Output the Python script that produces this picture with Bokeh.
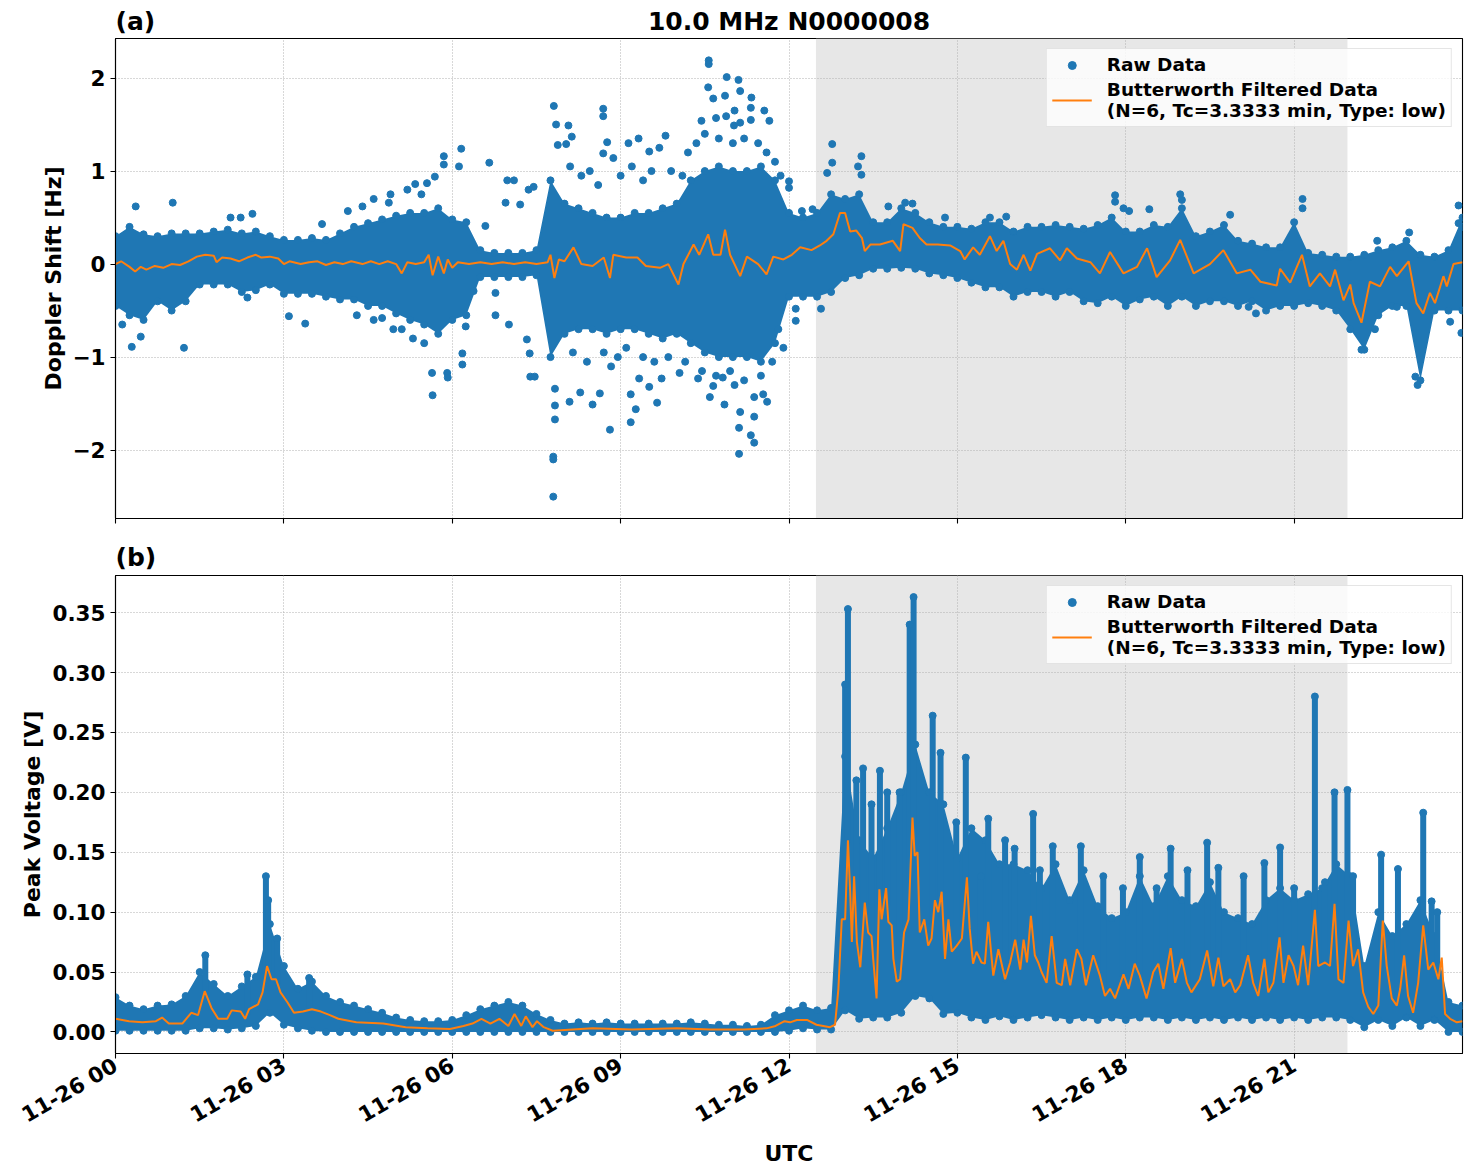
import math
import numpy as np
from bokeh.plotting import figure
from bokeh.layouts import column
from bokeh.models import (Range1d, FixedTicker, BoxAnnotation, Legend, LegendItem,
                          NumeralTickFormatter)
from bokeh.core.properties import value
from bokeh.embed import file_html
from bokeh.resources import INLINE

FONT = "DejaVu Sans"
BLUE = "#1f77b4"
ORANGE = "#ff7f0e"

# ---- time axis (hours after 2023-11-26 00:00 UTC) ----
hour_ticks = [0, 3, 6, 9, 12, 15, 18, 21]
hour_labels = ["11-26 00", "11-26 03", "11-26 06", "11-26 09",
               "11-26 12", "11-26 15", "11-26 18", "11-26 21"]
shade_start, shade_end = 12.48, 21.95          # shaded daytime interval (hours)

# raw-data envelope sampled every 15 minutes
env_t = np.arange(97) * 0.25

# ---- (a) Doppler shift [Hz] ----
doppler_hi = [0.30, 0.40, 0.32, 0.30, 0.33, 0.33, 0.33, 0.35, 0.37, 0.33, 0.35, 0.30,
              0.26, 0.26, 0.28, 0.26, 0.33, 0.40, 0.44, 0.48, 0.52, 0.55, 0.55, 0.60,
              0.48, 0.45, 0.15, 0.12, 0.12, 0.12, 0.15, 0.90, 0.65, 0.60, 0.55, 0.50,
              0.50, 0.55, 0.55, 0.60, 0.65, 0.90, 1.00, 1.05, 1.00, 1.00, 1.05, 0.90,
              0.55, 0.50, 0.55, 0.75, 0.70, 0.75, 0.45, 0.45, 0.60, 0.55, 0.45, 0.40,
              0.40, 0.38, 0.45, 0.45, 0.35, 0.40, 0.40, 0.42, 0.40, 0.38, 0.42, 0.50,
              0.35, 0.35, 0.42, 0.40, 0.60, 0.30, 0.35, 0.42, 0.25, 0.22, 0.18, 0.18,
              0.45, 0.12, 0.10, 0.08, 0.08, 0.10, 0.15, 0.18, 0.25, 0.10, 0.08, 0.15,
              0.50]
doppler_lo = [-0.45, -0.55, -0.60, -0.40, -0.50, -0.40, -0.22, -0.22, -0.22, -0.30, -0.28, -0.22,
              -0.32, -0.32, -0.32, -0.35, -0.38, -0.38, -0.45, -0.45, -0.53, -0.60, -0.65, -0.75,
              -0.60, -0.55, -0.14, -0.14, -0.14, -0.14, -0.12, -1.00, -0.75, -0.70, -0.70, -0.75,
              -0.70, -0.70, -0.75, -0.80, -0.75, -0.85, -0.95, -1.00, -1.00, -1.00, -1.05, -0.85,
              -0.35, -0.35, -0.35, -0.30, -0.15, -0.12, -0.05, -0.05, -0.04, -0.05, -0.10, -0.12,
              -0.15, -0.20, -0.25, -0.25, -0.35, -0.30, -0.30, -0.35, -0.30, -0.40, -0.42, -0.35,
              -0.45, -0.38, -0.35, -0.45, -0.35, -0.45, -0.40, -0.40, -0.45, -0.40, -0.50, -0.45,
              -0.45, -0.42, -0.45, -0.50, -0.70, -0.92, -0.55, -0.45, -0.45, -1.25, -0.50, -0.50,
              -0.50]

doppler_outliers = [
    (0.12, -0.65), (0.29, -0.89), (0.36, 0.62), (0.45, -0.78), (1.02, 0.66), (1.22, -0.90),
    (2.05, 0.50), (2.23, 0.50), (2.35, -0.36), (2.44, 0.54), (3.09, -0.56), (3.38, -0.64),
    (3.68, 0.43), (4.14, 0.57), (4.75, -0.58), (4.87, 0.66), (5.10, -0.70), (5.34, 0.86),
    (5.55, 0.87), (5.64, -1.17), (5.65, -1.41), (5.69, 0.94), (5.85, 1.16), (5.85, 1.07),
    (5.91, -1.17), (5.92, -1.22), (6.12, 1.05), (6.16, 1.24), (6.18, -1.08), (6.18, -0.96),
    (6.24, -0.67), (6.38, -0.29), (6.59, 0.41), (6.66, 1.09), (6.77, -0.55), (6.77, -0.31),
    (6.95, 0.66), (6.98, 0.90), (7.01, -0.65), (7.10, 0.90), (7.21, 0.64), (7.33, -0.81),
    (7.36, 0.80), (7.38, -0.96), (7.39, -1.21), (7.45, 0.83), (7.47, -1.21), (7.80, -2.07),
    (7.80, -2.10), (7.80, -2.50), (7.81, 1.70), (7.83, -1.67), (7.83, -1.52), (7.83, -1.34),
    (7.85, 1.50), (7.88, 1.28),
    (4.40, 0.62), (4.60, 0.70), (4.90, 0.75), (5.20, 0.80), (5.45, 0.75), (4.30, -0.55),
    (4.60, -0.60), (4.95, -0.70), (5.30, -0.80), (5.50, -0.85),
    (8.03, 1.29), (8.07, 1.49), (8.13, 1.37), (8.69, 1.67), (8.69, 1.59), (8.76, 1.31),
    (8.69, 1.19), (8.87, 1.14), (9.14, 1.30), (9.32, 1.35), (9.51, 1.21), (9.69, 1.25),
    (9.80, 1.38), (10.44, 1.54), (10.56, 1.90), (10.57, 2.19), (10.57, 2.15), (10.65, 1.78),
    (10.70, 1.57), (10.86, 1.81), (10.88, 1.59), (10.89, 2.01), (11.02, 1.49), (11.03, 1.65),
    (11.10, 1.98), (11.13, 1.86), (11.13, 1.52), (11.32, 1.68), (11.32, 1.55), (11.33, 1.79),
    (11.56, 1.65), (11.65, 1.54), (12.00, 0.89), (12.00, 0.82), (12.23, 0.57), (12.42, 0.59),
    (12.68, 0.98), (12.77, 1.29), (12.77, 1.09), (13.23, 1.05), (13.29, 1.16), (13.29, 0.96),
    (13.77, 0.62), (14.07, 0.66), (14.20, 0.65), (14.78, 0.50), (15.58, 0.50), (15.87, 0.51),
    (8.10, 1.05), (8.30, 0.95), (8.45, 1.00), (8.60, 0.85), (9.00, 0.95), (9.20, 1.05),
    (9.40, 0.90), (9.55, 1.00), (9.90, 1.00), (10.10, 0.95), (10.20, 1.20), (10.35, 1.30),
    (10.50, 1.40), (10.75, 1.35), (11.00, 1.30), (11.20, 1.35), (11.45, 1.30), (11.60, 1.20),
    (11.75, 1.10), (11.85, 0.95),
    (8.09, -1.48), (8.28, -1.38), (8.50, -1.51), (8.63, -1.39), (8.81, -1.78), (8.83, -1.10),
    (9.18, -1.70), (9.18, -1.40), (9.27, -1.56), (9.33, -1.23), (9.51, -1.32), (9.65, -1.49),
    (9.73, -1.23), (10.05, -1.17), (10.38, -1.23), (10.59, -1.43), (10.65, -1.31), (10.82, -1.22),
    (10.85, -1.51), (11.03, -1.30), (11.11, -2.04), (11.11, -1.76), (11.13, -1.59), (11.32, -1.84),
    (11.38, -1.92), (11.38, -1.64), (11.38, -1.43), (11.54, -1.40), (11.61, -1.48), (11.81, -0.70),
    (12.12, -0.61), (12.12, -0.48), (12.57, -0.48),
    (8.15, -0.95), (8.40, -1.05), (8.70, -0.95), (8.95, -1.00), (9.10, -0.90), (9.40, -1.00),
    (9.60, -1.05), (9.85, -1.00), (10.15, -1.05), (10.45, -1.15), (10.70, -1.20), (10.95, -1.15),
    (11.20, -1.25), (11.50, -1.20), (11.70, -1.05), (11.90, -0.90),
    (17.81, 0.74), (17.81, 0.67), (17.96, 0.60), (18.06, 0.57), (18.42, 0.59), (18.97, 0.75),
    (19.00, 0.69), (19.86, 0.53), (21.15, 0.70), (21.15, 0.60), (22.48, 0.25), (23.05, 0.34),
    (23.93, 0.63), (23.93, 0.44), (24.00, 0.40),
    (20.19, -0.46), (20.32, -0.53), (22.20, -0.92), (22.44, -0.70), (22.83, -0.46),
    (23.16, -1.21), (23.20, -1.30), (23.78, -0.62), (23.98, -0.74),
]

doppler_filt = [
    (0.00, 0.00), (0.10, 0.03), (0.25, -0.03), (0.35, -0.08), (0.45, -0.03), (0.55, -0.06),
    (0.70, -0.02), (0.85, -0.04), (1.00, 0.00), (1.15, -0.01), (1.30, 0.03), (1.45, 0.08),
    (1.60, 0.10), (1.75, 0.09), (1.80, 0.02), (1.90, 0.07), (2.05, 0.06), (2.20, 0.03),
    (2.35, 0.07), (2.50, 0.10), (2.60, 0.07), (2.75, 0.08), (2.90, 0.06), (3.00, 0.00),
    (3.10, 0.03), (3.30, 0.00), (3.45, 0.02), (3.60, 0.03), (3.75, -0.01), (3.90, 0.02),
    (4.05, 0.00), (4.20, 0.03), (4.40, 0.00), (4.55, 0.03), (4.70, 0.00), (4.85, 0.03),
    (5.00, 0.00), (5.10, -0.10), (5.20, 0.02), (5.35, 0.00), (5.50, 0.02), (5.58, 0.10),
    (5.65, -0.12), (5.75, 0.08), (5.85, -0.10), (5.92, 0.05), (6.00, -0.04), (6.10, 0.02),
    (6.30, 0.00), (6.50, 0.02), (6.70, 0.00), (6.90, 0.02), (7.10, 0.00), (7.30, 0.02),
    (7.50, 0.00), (7.70, 0.02), (7.75, 0.10), (7.82, -0.15), (7.90, 0.05), (8.00, 0.03),
    (8.16, 0.18), (8.30, 0.00), (8.50, -0.02), (8.70, 0.07), (8.81, -0.15), (8.87, 0.10),
    (9.10, 0.07), (9.30, 0.07), (9.45, -0.02), (9.70, -0.04), (9.85, 0.00), (10.03, -0.22),
    (10.12, 0.00), (10.30, 0.21), (10.40, 0.10), (10.56, 0.32), (10.65, 0.10), (10.78, 0.10),
    (10.86, 0.37), (10.95, 0.10), (11.13, -0.13), (11.25, 0.08), (11.45, 0.00), (11.60, -0.11),
    (11.72, 0.08), (11.90, 0.05), (12.05, 0.10), (12.20, 0.18), (12.40, 0.15), (12.55, 0.20),
    (12.67, 0.25), (12.79, 0.32), (12.91, 0.55), (13.00, 0.55), (13.09, 0.35), (13.20, 0.36),
    (13.30, 0.28), (13.35, 0.14), (13.45, 0.21), (13.62, 0.21), (13.85, 0.25), (13.98, 0.14),
    (14.04, 0.43), (14.20, 0.39), (14.33, 0.28), (14.45, 0.21), (14.65, 0.21), (14.87, 0.20),
    (15.05, 0.14), (15.13, 0.05), (15.28, 0.18), (15.40, 0.10), (15.58, 0.30), (15.70, 0.14),
    (15.82, 0.25), (15.94, 0.00), (16.06, -0.06), (16.18, 0.10), (16.30, -0.07), (16.42, 0.11),
    (16.65, 0.17), (16.83, 0.04), (16.95, 0.17), (17.13, 0.06), (17.37, 0.02), (17.54, -0.10),
    (17.72, 0.13), (17.96, -0.10), (18.20, -0.03), (18.38, 0.17), (18.55, -0.14), (18.79, 0.04),
    (18.97, 0.26), (19.21, -0.10), (19.50, 0.00), (19.74, 0.15), (19.98, -0.10), (20.22, -0.06),
    (20.40, -0.19), (20.69, -0.23), (20.75, -0.05), (20.93, -0.20), (21.14, 0.10), (21.28, -0.24),
    (21.46, -0.10), (21.64, -0.24), (21.73, -0.06), (21.88, -0.39), (22.00, -0.22), (22.06, -0.42),
    (22.20, -0.63), (22.35, -0.19), (22.53, -0.24), (22.71, -0.03), (22.83, -0.13), (23.04, 0.03),
    (23.18, -0.42), (23.30, -0.53), (23.42, -0.31), (23.51, -0.42), (23.66, -0.13), (23.72, -0.24),
    (23.84, 0.00), (24.00, 0.02),
]

# ---- (b) Peak voltage [V] ----
volt_hi = [0.029, 0.022, 0.019, 0.022, 0.023, 0.030, 0.050, 0.040, 0.030, 0.038, 0.046, 0.090,
           0.055, 0.036, 0.042, 0.030, 0.025, 0.022, 0.019, 0.016, 0.012, 0.010, 0.009, 0.009,
           0.010, 0.014, 0.019, 0.022, 0.025, 0.022, 0.015, 0.010, 0.007, 0.008, 0.007, 0.008,
           0.007, 0.007, 0.007, 0.007, 0.007, 0.008, 0.007, 0.006, 0.006, 0.005, 0.006, 0.014,
           0.018, 0.022, 0.018, 0.020, 0.230, 0.160, 0.145, 0.170, 0.200, 0.240, 0.200, 0.190,
           0.145, 0.170, 0.160, 0.140, 0.140, 0.135, 0.120, 0.140, 0.110, 0.135, 0.105, 0.095,
           0.100, 0.130, 0.105, 0.130, 0.110, 0.105, 0.125, 0.100, 0.095, 0.090, 0.110, 0.120,
           0.110, 0.115, 0.120, 0.140, 0.130, 0.055, 0.100, 0.080, 0.090, 0.110, 0.080, 0.025,
           0.022]
volt_lo = [0.001, 0.001, 0.001, 0.001, 0.001, 0.001, 0.003, 0.003, 0.002, 0.003, 0.005, 0.016,
           0.006, 0.003, 0.001, 0.000, 0.000, 0.000, 0.000, 0.000, 0.000, 0.000, 0.000, 0.000,
           0.000, 0.000, 0.000, 0.000, 0.000, 0.000, 0.000, 0.000, 0.000, 0.000, 0.000, 0.000,
           0.000, 0.000, 0.000, 0.000, 0.000, 0.000, 0.000, 0.000, 0.000, 0.000, 0.000, 0.000,
           0.001, 0.003, 0.002, 0.002, 0.018, 0.011, 0.012, 0.012, 0.016, 0.030, 0.028, 0.015,
           0.016, 0.012, 0.010, 0.013, 0.010, 0.012, 0.014, 0.012, 0.010, 0.012, 0.010, 0.012,
           0.010, 0.012, 0.012, 0.010, 0.012, 0.010, 0.012, 0.010, 0.012, 0.010, 0.012, 0.010,
           0.012, 0.010, 0.012, 0.012, 0.010, 0.004, 0.010, 0.005, 0.012, 0.005, 0.010, 0.000,
           0.000]

# isolated bursts of raw points: (time, highest value)
volt_spikes = [
    (1.60, 0.064), (2.35, 0.048), (2.68, 0.130), (2.72, 0.110), (2.88, 0.078), (3.45, 0.045),
    (13.00, 0.290), (13.05, 0.353), (13.20, 0.210), (13.32, 0.220), (13.47, 0.190), (13.62, 0.218),
    (13.75, 0.200), (13.97, 0.200), (14.15, 0.340), (14.22, 0.363), (14.56, 0.264), (14.70, 0.233),
    (14.98, 0.175), (15.15, 0.229), (15.42, 0.130), (15.55, 0.178), (15.85, 0.160), (16.02, 0.153),
    (16.35, 0.182), (16.47, 0.135), (16.70, 0.155), (17.20, 0.155), (17.60, 0.130), (17.95, 0.120),
    (18.25, 0.146), (18.55, 0.120), (18.80, 0.153), (19.10, 0.135), (19.45, 0.158), (19.65, 0.137),
    (20.10, 0.130), (20.47, 0.141), (20.75, 0.154), (21.00, 0.120), (21.37, 0.280), (21.55, 0.125),
    (21.72, 0.200), (21.95, 0.202), (22.05, 0.130), (22.55, 0.148), (22.85, 0.136), (23.30, 0.183),
    (23.45, 0.109), (23.55, 0.100),
]

volt_filt = [
    (0.00, 0.011), (0.24, 0.009), (0.48, 0.008), (0.72, 0.009), (0.83, 0.012), (0.95, 0.007),
    (1.19, 0.007), (1.35, 0.016), (1.47, 0.014), (1.59, 0.034), (1.71, 0.020), (1.83, 0.011),
    (1.99, 0.011), (2.07, 0.018), (2.23, 0.017), (2.31, 0.011), (2.38, 0.019), (2.54, 0.023),
    (2.62, 0.033), (2.70, 0.055), (2.78, 0.044), (2.86, 0.044), (2.94, 0.033), (3.06, 0.025),
    (3.18, 0.016), (3.34, 0.017), (3.50, 0.019), (3.66, 0.017), (3.82, 0.014), (3.97, 0.011),
    (4.29, 0.008), (4.77, 0.007), (5.17, 0.004), (5.56, 0.003), (5.96, 0.0025), (6.20, 0.005),
    (6.36, 0.007), (6.52, 0.011), (6.68, 0.007), (6.84, 0.011), (7.00, 0.005), (7.11, 0.015),
    (7.23, 0.005), (7.31, 0.013), (7.43, 0.004), (7.51, 0.009), (7.63, 0.004), (7.79, 0.001),
    (8.50, 0.003), (9.20, 0.002), (10.00, 0.003), (10.60, 0.002), (11.20, 0.002), (11.60, 0.003),
    (11.76, 0.005), (11.92, 0.009), (12.02, 0.008), (12.14, 0.010), (12.32, 0.010), (12.49, 0.006),
    (12.73, 0.004), (12.82, 0.006), (12.88, 0.036), (12.94, 0.094), (13.00, 0.094), (13.05, 0.160),
    (13.09, 0.117), (13.12, 0.075), (13.16, 0.130), (13.21, 0.075), (13.27, 0.054), (13.35, 0.108),
    (13.41, 0.083), (13.47, 0.080), (13.50, 0.061), (13.56, 0.028), (13.61, 0.119), (13.65, 0.094),
    (13.73, 0.120), (13.77, 0.092), (13.83, 0.089), (13.86, 0.061), (13.92, 0.042), (13.98, 0.044),
    (14.05, 0.083), (14.13, 0.094), (14.20, 0.179), (14.24, 0.147), (14.29, 0.150), (14.33, 0.083),
    (14.41, 0.094), (14.48, 0.072), (14.54, 0.078), (14.60, 0.110), (14.66, 0.100), (14.72, 0.117),
    (14.78, 0.061), (14.84, 0.094), (14.90, 0.067), (14.99, 0.072), (15.08, 0.078), (15.17, 0.129),
    (15.22, 0.086), (15.28, 0.057), (15.34, 0.067), (15.43, 0.058), (15.49, 0.057), (15.55, 0.092),
    (15.64, 0.047), (15.73, 0.069), (15.85, 0.044), (15.94, 0.058), (16.03, 0.077), (16.12, 0.052),
    (16.18, 0.077), (16.24, 0.058), (16.31, 0.097), (16.38, 0.064), (16.44, 0.058), (16.50, 0.050),
    (16.59, 0.041), (16.68, 0.080), (16.77, 0.041), (16.86, 0.039), (16.92, 0.061), (17.01, 0.039),
    (17.13, 0.069), (17.21, 0.061), (17.29, 0.039), (17.42, 0.064), (17.54, 0.047), (17.63, 0.030),
    (17.72, 0.036), (17.81, 0.028), (17.96, 0.048), (18.05, 0.036), (18.16, 0.057), (18.25, 0.047),
    (18.37, 0.028), (18.49, 0.050), (18.58, 0.057), (18.67, 0.036), (18.80, 0.070), (18.88, 0.041),
    (19.00, 0.061), (19.09, 0.041), (19.17, 0.033), (19.32, 0.044), (19.45, 0.068), (19.56, 0.038),
    (19.65, 0.062), (19.74, 0.038), (19.86, 0.044), (19.95, 0.033), (20.04, 0.039), (20.18, 0.064),
    (20.27, 0.041), (20.36, 0.030), (20.47, 0.061), (20.54, 0.033), (20.63, 0.041), (20.74, 0.079),
    (20.81, 0.041), (20.90, 0.064), (20.99, 0.055), (21.07, 0.039), (21.16, 0.072), (21.25, 0.039),
    (21.37, 0.102), (21.43, 0.055), (21.55, 0.058), (21.64, 0.055), (21.72, 0.107), (21.79, 0.044),
    (21.88, 0.041), (21.97, 0.093), (22.05, 0.055), (22.14, 0.069), (22.23, 0.033), (22.32, 0.021),
    (22.41, 0.015), (22.50, 0.022), (22.58, 0.093), (22.65, 0.055), (22.74, 0.028), (22.83, 0.022),
    (22.89, 0.036), (22.96, 0.064), (23.03, 0.030), (23.12, 0.016), (23.21, 0.041), (23.30, 0.089),
    (23.39, 0.052), (23.48, 0.058), (23.57, 0.044), (23.63, 0.062), (23.69, 0.015), (23.78, 0.011),
    (23.90, 0.008), (24.00, 0.009),
]

doppler_yticks = [-2, -1, 0, 1, 2]
doppler_ylabels = ["\u22122", "\u22121", "0", "1", "2"]
volt_yticks = [0.0, 0.05, 0.10, 0.15, 0.20, 0.25, 0.30, 0.35]

title_text = "10.0 MHz N0000008"
legend_raw = "Raw Data"
legend_filt = "Butterworth Filtered Data\n(N=6, Tc=3.3333 min, Type: low)"

assert len(doppler_hi) == len(doppler_lo) == len(volt_hi) == len(volt_lo) == len(env_t)

TICK_PX = "21.5px"
LABEL_PX = "22px"
LEGEND_PX = "18.5px"
TITLE_PX = "25px"


def make_header(height, mid, texts):
    """Thin strip above a panel carrying the panel tag and the title."""
    h = figure(width=1472, height=height, x_range=Range1d(0, 24), y_range=Range1d(0, height),
               output_backend="svg", toolbar_location=None,
               x_axis_location=None, y_axis_location=None,
               min_border_left=115, min_border_right=10, min_border_top=0, min_border_bottom=0)
    h.outline_line_color = None
    h.grid.visible = False
    for x, txt, align in texts:
        h.text(x=[x], y=[mid], text=[txt], text_align=align, text_baseline="middle",
               text_font=value(FONT), text_font_style="bold", text_font_size=TITLE_PX,
               text_color="black")
    return h


def make_panel(height, border_top, border_bottom, y0, y1, ylabel, show_xlabels, label_gap):
    p = figure(width=1472, height=height, x_range=Range1d(0, 24), y_range=Range1d(y0, y1),
               output_backend="svg", toolbar_location=None,
               min_border_left=115, min_border_right=10,
               min_border_top=border_top, min_border_bottom=border_bottom)
    p.background_fill_color = "white"
    p.border_fill_color = "white"
    p.outline_line_color = "black"
    p.outline_line_width = 1.1
    p.xaxis.ticker = FixedTicker(ticks=hour_ticks)
    p.xgrid.ticker = FixedTicker(ticks=hour_ticks)
    p.xaxis.major_label_overrides = {t: l for t, l in zip(hour_ticks, hour_labels)}
    for ax in p.axis:
        ax.axis_line_color = "black"
        ax.axis_line_width = 1.1
        ax.major_tick_line_color = "black"
        ax.major_tick_line_width = 1.1
        ax.major_tick_in = 0
        ax.major_tick_out = 5
        ax.minor_tick_line_color = None
        ax.major_label_text_font = FONT
        ax.major_label_text_font_style = "bold"
        ax.major_label_text_font_size = TICK_PX
        ax.major_label_text_color = "black"
        ax.major_label_standoff = 5
        ax.axis_label_text_font = FONT
        ax.axis_label_text_font_style = "bold"
        ax.axis_label_text_font_size = LABEL_PX
        ax.axis_label_text_color = "black"
    p.yaxis.axis_label = ylabel
    p.yaxis.axis_label_standoff = label_gap
    if show_xlabels:
        p.xaxis.major_label_orientation = math.pi / 6
        p.xaxis.axis_label = "UTC"
        p.xaxis.axis_label_standoff = 0
    else:
        # shared time axis: ticks only, labels appear under the lower panel
        p.xaxis.major_label_text_font_size = "2px"
        p.xaxis.major_label_text_color = None
    for g in p.grid:
        g.grid_line_color = "#b0b0b0"
        g.grid_line_dash = "1 2"
        g.grid_line_width = 1
    p.add_layout(BoxAnnotation(left=shade_start, right=shade_end, fill_color="#e7e7e7",
                               fill_alpha=1.0, line_color=None, level="image"))
    return p


def add_legend(p, r_raw, r_line):
    lg = Legend(items=[LegendItem(label=legend_raw, renderers=[r_raw]),
                       LegendItem(label=legend_filt, renderers=[r_line])],
                location="top_right")
    lg.label_text_font = FONT
    lg.label_text_font_style = "bold"
    lg.label_text_font_size = LEGEND_PX
    lg.label_text_color = "black"
    lg.border_line_color = "#cccccc"
    lg.border_line_width = 1
    lg.background_fill_color = "white"
    lg.background_fill_alpha = 0.8
    lg.margin = 10
    lg.padding = 5
    lg.spacing = 4
    lg.glyph_width = 40
    lg.label_standoff = 15
    p.add_layout(lg)


# ---------- panel (a) ----------
ha = make_header(36, 15, [(0, "(a)", "left"), (12, title_text, "center")])
pa = make_panel(500, 2, 18, -2.735, 2.425, "Doppler Shift [Hz]", False, 4)
pa.yaxis.ticker = FixedTicker(ticks=doppler_yticks)
pa.ygrid.ticker = FixedTicker(ticks=doppler_yticks)
pa.yaxis.major_label_overrides = {t: l for t, l in zip(doppler_yticks, doppler_ylabels)}

pa.varea(x=env_t, y1=doppler_lo, y2=doppler_hi, fill_color=BLUE)
pa.scatter(x=env_t, y=doppler_hi, size=7, color=BLUE)
pa.scatter(x=env_t, y=doppler_lo, size=7, color=BLUE)
ot, ov = zip(*doppler_outliers)
ra_raw = pa.scatter(x=list(ot), y=list(ov), size=7, color=BLUE)
ft, fv = zip(*doppler_filt)
ra_line = pa.line(x=list(ft), y=list(fv), line_color=ORANGE, line_width=2)
add_legend(pa, ra_raw, ra_line)

# ---------- panel (b) ----------
hb = make_header(37, 16, [(0, "(b)", "left")])
pb = make_panel(599, 2, 119, -0.018, 0.381, "Peak Voltage [V]", True, 4)
pb.yaxis.ticker = FixedTicker(ticks=volt_yticks)
pb.ygrid.ticker = FixedTicker(ticks=volt_yticks)
pb.yaxis.formatter = NumeralTickFormatter(format="0.00")

pb.varea(x=env_t, y1=volt_lo, y2=volt_hi, fill_color=BLUE)
pb.scatter(x=env_t, y=volt_hi, size=7, color=BLUE)
pb.scatter(x=env_t, y=volt_lo, size=7, color=BLUE)
vt, vv = zip(*volt_filt)
st, sv = zip(*volt_spikes)
spike_base = np.interp(st, vt, vv)
pb.segment(x0=list(st), y0=list(spike_base), x1=list(st), y1=list(sv),
           line_color=BLUE, line_width=6, line_cap="round")
rb_raw = pb.scatter(x=list(st), y=list(sv), size=7, color=BLUE)
rb_line = pb.line(x=list(vt), y=list(vv), line_color=ORANGE, line_width=2)
add_legend(pb, rb_raw, rb_line)

layout = column(ha, pa, hb, pb)
open("out.html", "w").write(file_html(layout, INLINE))
